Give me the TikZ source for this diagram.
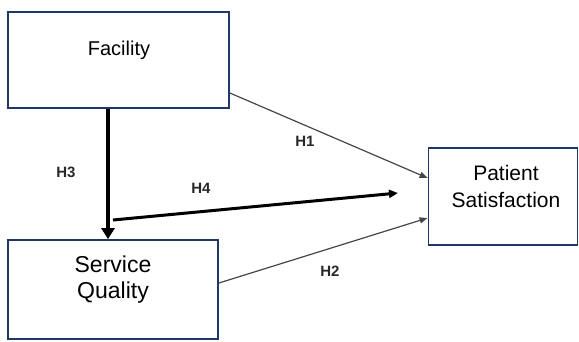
\documentclass[tikz,border=0pt]{standalone}
\usepackage{fontspec}
\setmainfont{Liberation Sans}
\usetikzlibrary{arrows.meta,positioning}

\definecolor{boxblue}{RGB}{31,56,100}
\definecolor{linegray}{RGB}{70,70,70}
\definecolor{hypgray}{RGB}{40,40,40}

\begin{document}
\begin{tikzpicture}[x=1pt,y=-1pt,
    box/.style={draw=boxblue,line width=1.8pt},
    boxtext/.style={align=center,inner sep=0pt},
    hyp/.style={font=\fontsize{15}{17}\selectfont\bfseries,text=hypgray},
    thinpath/.style={draw=linegray,line width=1.2pt,-{Triangle[length=8pt,width=6pt]}},
    thickpath/.style={line width=4.5pt,-{Triangle[length=11pt,width=13pt]}},
    midpath/.style={line width=3pt,-{Triangle[length=9pt,width=8pt]}}]
  \useasboundingbox (0,0) rectangle (579,341);
  % boxes
  \node[box,minimum width=221,minimum height=96] (fac) at (118.5,60) {};
  \node[boxtext,font=\fontsize{20}{24}\selectfont] (facT) at (119,50) {Facility};
  \node[box,minimum width=210,minimum height=99] (sq) at (113,289.5) {};
  \node[boxtext,font=\fontsize{23}{26}\selectfont] (sqT) at (113,280) {Service\\Quality};
  \node[box,minimum width=149,minimum height=97] (pat) at (503,196.5) {};
  \node[boxtext,font=\fontsize{21}{27}\selectfont] (patT) at (506,186.5) {Patient\\Satisfaction};
  % paths
  \coordinate (h4s) at (113,220);
  \coordinate (h4e) at (398,193);
  \draw[thinpath] ([yshift=-33]fac.east) -- ([yshift=18.5]pat.west);
  \draw[thinpath] ([yshift=6.5]sq.east) -- ([yshift=-21.5]pat.west);
  \draw[thickpath] ([xshift=-10.5]fac.south) -- ([xshift=-5]sq.north);
  \draw[midpath] (h4s) -- (h4e);
  % labels
  \node[hyp] (h1) at (305,141) {H1};
  \node[hyp] (h2) at (330,271) {H2};
  \node[hyp] (h3) at (66,172) {H3};
  \node[hyp] (h4) at (201,188) {H4};
\end{tikzpicture}
\end{document}
